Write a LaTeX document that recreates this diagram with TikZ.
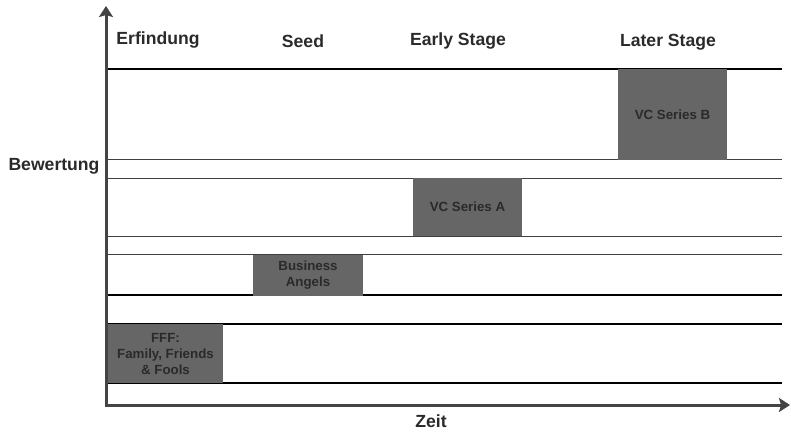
\documentclass[tikz,border=0pt]{standalone}
\usepackage{fontspec}
\setmainfont{Liberation Sans}
\usetikzlibrary{arrows.meta}
\definecolor{axisgray}{HTML}{444444}
\definecolor{boxgray}{HTML}{666666}
\definecolor{txtdark}{HTML}{2A2A2A}
\begin{document}
\begin{tikzpicture}[x=1pt,y=-1pt,
  stagelabel/.style={font=\fontsize{17.6}{20}\selectfont\bfseries, text=txtdark, inner sep=0pt},
  fundbox/.style={fill=boxgray, draw=none, inner sep=0pt, align=center,
     font=\fontsize{13.3}{16}\selectfont\bfseries, text=txtdark},
  axis/.style={draw=axisgray, line width=3pt, -{Stealth[width=14pt,length=11pt,inset=2pt]}},
  darkline/.style={draw=black, line width=1.4pt},
  lightline/.style={draw=black!75, line width=1pt}]
\useasboundingbox (0,0) rectangle (791,431);
% level lines
\draw[darkline] (108,69) -- (782,69);
\draw[lightline] (108,159) -- (782,159);
\draw[lightline] (108,178) -- (782,178);
\draw[lightline] (108,236) -- (782,236);
\draw[lightline] (108,254) -- (782,254);
\draw[darkline] (108,295) -- (782,295);
\draw[darkline] (108,324) -- (782,324);
\draw[darkline] (108,383) -- (782,383);
% boxes
\node[fundbox, minimum width=109pt, minimum height=91pt] (vcb) at (672.5,114.5) {VC Series B};
\node[fundbox, minimum width=109pt, minimum height=58pt] (vca) at (467.5,207) {VC Series A};
\node[fundbox, minimum width=110pt, minimum height=41pt] (ba) at (308,275.5) {Business\\Angels};
\node[fundbox, minimum width=115pt, minimum height=59pt] (fff) at (165.5,353.5) {FFF:\\Family, Friends\\\& Fools};
% axes
\coordinate (o) at (106,405);
\coordinate (ytip) at (106,6);
\coordinate (xtip) at (790,405);
\draw[axis] ([yshift=1.5pt]o) -- (ytip);
\draw[axis] ([xshift=-1.5pt]o) -- (xtip);
% labels
\node[stagelabel] (erf) at (158,40) {Erfindung};
\node[stagelabel] (seed) at (303,41) {Seed};
\node[stagelabel] (early) at (458,41) {Early Stage};
\node[stagelabel] (later) at (668,42) {Later Stage};
\node[stagelabel] (bew) at (54,166) {Bewertung};
\node[stagelabel] (zeit) at (431,421) {Zeit};
\end{tikzpicture}
\end{document}
